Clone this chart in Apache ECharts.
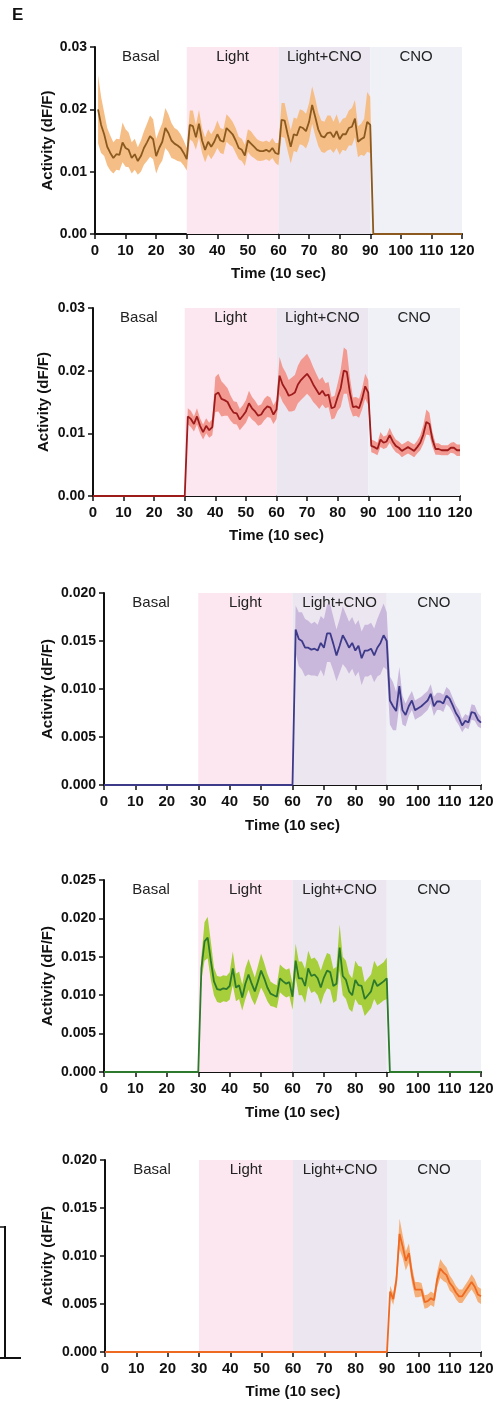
<!DOCTYPE html>
<html><head><meta charset="utf-8">
<script src="https://cdn.jsdelivr.net/npm/echarts@6/dist/echarts.min.js"></script>
<style>html,body{margin:0;padding:0;background:#fff}#c{width:497px;height:1402px}</style>
</head><body><div id="c"></div>
<script>
// ---------- data ----------
const phaseNames = ['Basal', 'Light', 'Light+CNO', 'CNO'];
const phaseBounds = [0, 30, 60, 90, 120];
const xAxisName = 'Time (10 sec)';
const yAxisName = 'Activity (dF/F)';

// Panel 1 (x = 1..90, then 0)
const p1Start = 1;
const p1Mean = [
 .0200,.0175,.0160,.0140,.0130,.0122,.0128,.0127,.0147,.0138,
 .0135,.0122,.0128,.0117,.0125,.0138,.0147,.0157,.0152,.0125,
 .0138,.0148,.0170,.0162,.0150,.0145,.0142,.0138,.0130,.0120,
 .0175,.0173,.0155,.0177,.0150,.0135,.0148,.0140,.0148,.0160,
 .0150,.0148,.0170,.0165,.0160,.0150,.0138,.0135,.0126,.0150,
 .0145,.0140,.0135,.0133,.0133,.0135,.0132,.0138,.0130,.0128,
 .0183,.0182,.0160,.0140,.0160,.0158,.0172,.0170,.0165,.0180,
 .0207,.0188,.0168,.0157,.0155,.0162,.0163,.0155,.0165,.0152,
 .0160,.0160,.0170,.0172,.0185,.0148,.0152,.0155,.0180,.0175];
const p1Sem = [
 .0055,.0045,.0035,.0030,.0028,.0025,.0025,.0025,.0032,.0030,
 .0028,.0025,.0025,.0022,.0025,.0027,.0030,.0033,.0032,.0028,
 .0028,.0030,.0032,.0030,.0028,.0025,.0025,.0022,.0020,.0018,
 .0023,.0025,.0020,.0022,.0020,.0020,.0020,.0020,.0020,.0022,
 .0020,.0020,.0022,.0022,.0020,.0020,.0018,.0018,.0017,.0018,
 .0020,.0018,.0017,.0016,.0015,.0015,.0015,.0016,.0016,.0018,
 .0027,.0028,.0027,.0027,.0027,.0027,.0028,.0028,.0028,.0030,
 .0030,.0030,.0027,.0025,.0025,.0028,.0027,.0025,.0027,.0025,
 .0025,.0027,.0028,.0030,.0030,.0025,.0025,.0030,.0048,.0045];

// Panel 2 (0 until 30, x = 31..120)
const p2Start = 31;
const p2Mean = [
 .0127,.0123,.0115,.0127,.0112,.0102,.0112,.0105,.0110,.0162,
 .0165,.0155,.0153,.0150,.0140,.0133,.0132,.0122,.0128,.0135,
 .0148,.0140,.0135,.0128,.0130,.0138,.0143,.0141,.0130,.0138,
 .0192,.0178,.0170,.0160,.0162,.0165,.0178,.0185,.0190,.0195,
 .0188,.0178,.0170,.0162,.0168,.0160,.0162,.0140,.0142,.0158,
 .0172,.0200,.0198,.0165,.0142,.0143,.0140,.0155,.0175,.0165,
 .0080,.0078,.0075,.0090,.0085,.0087,.0097,.0087,.0080,.0077,
 .0072,.0075,.0078,.0075,.0072,.0078,.0085,.0098,.0118,.0115,
 .0090,.0075,.0075,.0073,.0073,.0073,.0077,.0077,.0073,.0073];
const p2Sem = [
 .0013,.0013,.0012,.0013,.0012,.0012,.0012,.0012,.0013,.0028,
 .0030,.0028,.0025,.0022,.0020,.0018,.0018,.0017,.0017,.0018,
 .0020,.0018,.0017,.0016,.0016,.0017,.0017,.0016,.0015,.0015,
 .0030,.0028,.0027,.0025,.0027,.0028,.0030,.0032,.0032,.0032,
 .0030,.0028,.0025,.0023,.0022,.0020,.0020,.0018,.0018,.0022,
 .0030,.0037,.0035,.0025,.0015,.0015,.0015,.0017,.0020,.0020,
 .0010,.0010,.0010,.0012,.0010,.0010,.0012,.0011,.0010,.0010,
 .0010,.0010,.0010,.0010,.0010,.0010,.0012,.0015,.0020,.0018,
 .0012,.0009,.0009,.0008,.0008,.0008,.0008,.0009,.0009,.0009];

// Panel 3 (0 until 60, x = 61..120)
const p3Start = 61;
const p3Mean = [
 .0162,.0152,.0150,.0143,.0143,.0141,.0142,.0140,.0148,.0143,
 .0158,.0158,.0147,.0135,.0145,.0156,.0150,.0143,.0148,.0140,
 .0145,.0132,.0140,.0140,.0142,.0135,.0143,.0148,.0156,.0150,
 .0088,.0082,.0077,.0103,.0078,.0073,.0082,.0088,.0078,.0080,
 .0082,.0085,.0088,.0095,.0082,.0087,.0087,.0085,.0093,.0090,
 .0083,.0075,.0070,.0062,.0067,.0065,.0076,.0075,.0068,.0065];
const p3Sem = [
 .0025,.0028,.0030,.0030,.0028,.0027,.0028,.0027,.0028,.0030,
 .0030,.0030,.0028,.0027,.0028,.0030,.0028,.0027,.0027,.0027,
 .0027,.0028,.0027,.0027,.0027,.0028,.0030,.0033,.0033,.0030,
 .0025,.0025,.0020,.0020,.0015,.0012,.0010,.0010,.0010,.0010,
 .0010,.0010,.0010,.0010,.0010,.0009,.0009,.0009,.0009,.0009,
 .0008,.0008,.0008,.0007,.0007,.0007,.0008,.0008,.0007,.0006];

// Panel 4 (0 until 30, x = 31..90, then 0)
const p4Start = 31;
const p4Mean = [
 .0135,.0170,.0175,.0145,.0118,.0108,.0107,.0109,.0108,.0112,
 .0135,.0110,.0113,.0097,.0115,.0127,.0115,.0105,.0118,.0132,
 .0122,.0110,.0102,.0100,.0098,.0122,.0118,.0115,.0117,.0098,
 .0145,.0122,.0122,.0112,.0135,.0125,.0127,.0122,.0110,.0123,
 .0132,.0130,.0112,.0115,.0162,.0125,.0120,.0105,.0100,.0120,
 .0113,.0112,.0095,.0100,.0105,.0120,.0112,.0115,.0118,.0122];
const p4Sem = [
 .0015,.0025,.0027,.0025,.0018,.0017,.0017,.0017,.0017,.0018,
 .0022,.0018,.0018,.0017,.0020,.0020,.0020,.0018,.0020,.0022,
 .0020,.0018,.0016,.0015,.0015,.0018,.0018,.0018,.0018,.0017,
 .0022,.0022,.0022,.0022,.0023,.0022,.0022,.0022,.0022,.0022,
 .0023,.0023,.0022,.0022,.0030,.0025,.0025,.0023,.0022,.0025,
 .0025,.0025,.0022,.0022,.0022,.0025,.0025,.0025,.0025,.0027];

// Panel 5 (0 until 90, x = 91..120)
const p5Start = 91;
const p5Mean = [
 .0063,.0055,.0075,.0123,.0110,.0095,.0103,.0080,.0065,.0065,
 .0065,.0052,.0053,.0056,.0054,.0075,.0087,.0083,.0080,.0072,
 .0068,.0062,.0058,.0058,.0063,.0068,.0073,.0068,.0060,.0058];
const p5Sem = [
 .0006,.0006,.0008,.0016,.0012,.0010,.0010,.0009,.0008,.0008,
 .0007,.0007,.0007,.0007,.0007,.0008,.0010,.0009,.0008,.0008,
 .0007,.0007,.0007,.0007,.0007,.0007,.0008,.0008,.0008,.0008];

const yMaxes = [0.03, 0.03, 0.02, 0.025, 0.02];
const yIntervals = [0.01, 0.01, 0.005, 0.005, 0.005];
const yDecimals = [2, 2, 3, 3, 3];

// ---------- styling / layout ----------
const FONT = 'Arial, "Liberation Sans", sans-serif';
const phaseColors = ['rgba(255,255,255,0)', '#fce6ef', '#ece6f0', '#eff1f7'];
const panels = [
  {start: p1Start, from: 1, mean: p1Mean, sem: p1Sem, line: '#8c5a1e', band: '#f6be87',
   left: 95, width: 367, top: 47, height: 187, yGap: 40, xGap: 32},
  {start: p2Start, from: 0, mean: p2Mean, sem: p2Sem, line: '#9e1b1b', band: '#f29a92',
   left: 93, width: 367, top: 308, height: 188, yGap: 42, xGap: 32},
  {start: p3Start, from: 0, mean: p3Mean, sem: p3Sem, line: '#3d3a8a', band: '#c9b8dc',
   left: 104, width: 377, top: 593, height: 192, yGap: 49, xGap: 33},
  {start: p4Start, from: 0, mean: p4Mean, sem: p4Sem, line: '#2d7a2d', band: '#a6cf3b',
   left: 104, width: 377, top: 880, height: 192, yGap: 49, xGap: 33},
  {start: p5Start, from: 0, mean: p5Mean, sem: p5Sem, line: '#ee6a22', band: '#f5b07a',
   left: 105, width: 376, top: 1160, height: 192, yGap: 50, xGap: 32}
];

const grids = [], xAxes = [], yAxes = [], series = [];
panels.forEach((p, i) => {
  grids.push({left: p.left, top: p.top, width: p.width, height: p.height});
  xAxes.push({
    type: 'value', gridIndex: i, min: 0, max: 120, interval: 10,
    name: xAxisName, nameLocation: 'middle', nameGap: p.xGap, nameMoveOverlap: false,
    nameTextStyle: {fontFamily: FONT, fontWeight: 'bold', fontSize: 15, color: '#111'},
    axisLine: {lineStyle: {color: '#111', width: 2}},
    axisTick: {show: true, length: 5, lineStyle: {color: '#111', width: 1.5}},
    axisLabel: {fontFamily: FONT, fontWeight: 'bold', fontSize: 15, color: '#111', margin: 9},
    splitLine: {show: false}
  });
  yAxes.push({
    type: 'value', gridIndex: i, min: 0, max: yMaxes[i], interval: yIntervals[i],
    name: yAxisName, nameLocation: 'middle', nameGap: p.yGap, nameMoveOverlap: false,
    nameTextStyle: {fontFamily: FONT, fontWeight: 'bold', fontSize: 15, color: '#111'},
    axisLine: {show: true, lineStyle: {color: '#111', width: 2}},
    axisTick: {show: true, length: 5, lineStyle: {color: '#111', width: 1.5}},
    axisLabel: {fontFamily: FONT, fontWeight: 'bold', fontSize: 14, color: '#111', margin: 8,
      formatter: v => v.toFixed(yDecimals[i])},
    splitLine: {show: false}
  });
  const band = [], mean = [];
  for (let x = p.from; x <= 120; x++) {
    const k = x - p.start;
    if (k >= 0 && k < p.mean.length) {
      band.push([x, p.mean[k] - p.sem[k], p.mean[k] + p.sem[k]]);
      mean.push([x, p.mean[k]]);
    } else {
      band.push([x, 0, 0]);
      mean.push([x, 0]);
    }
  }
  const areas = phaseNames.map((n, j) => [
    {xAxis: phaseBounds[j], name: n, itemStyle: {color: phaseColors[j]}},
    {xAxis: phaseBounds[j + 1]}
  ]);
  // background phases
  series.push({
    type: 'line', xAxisIndex: i, yAxisIndex: i, data: mean, symbol: 'none',
    lineStyle: {opacity: 0}, silent: true, z: 1,
    markArea: {silent: true,
      label: {show: true, position: 'insideTop', distance: 2, fontFamily: FONT, fontSize: 15, color: '#222',
        formatter: d => d.name},
      data: areas}
  });
  // SEM band
  series.push({
    type: 'custom', xAxisIndex: i, yAxisIndex: i, data: band, silent: true, z: 3,
    encode: {x: 0, y: [1, 2]},
    renderItem: (params, api) => {
      if (params.dataIndex !== 0) return null;
      const up = band.map(d => api.coord([d[0], d[2]]));
      const lo = band.map(d => api.coord([d[0], d[1]])).reverse();
      return {type: 'polygon', shape: {points: up.concat(lo)}, style: {fill: p.band}};
    }
  });
  // mean line
  series.push({
    type: 'line', xAxisIndex: i, yAxisIndex: i, data: mean, symbol: 'none',
    lineStyle: {color: p.line, width: 1.8}, silent: true, z: 4
  });
});

const chart = echarts.init(document.getElementById('c'), null, {renderer: 'canvas'});
chart.setOption({
  animation: false,
  backgroundColor: '#fff',
  grid: grids, xAxis: xAxes, yAxis: yAxes, series: series,
  graphic: [
    {type: 'text', left: 12, top: 7, style: {text: 'E', font: 'bold 17px ' + FONT, fill: '#111'}},
    {type: 'line', shape: {x1: 5, y1: 1226, x2: 5, y2: 1358}, style: {stroke: '#111', lineWidth: 2}},
    {type: 'line', shape: {x1: 0, y1: 1358, x2: 21, y2: 1358}, style: {stroke: '#111', lineWidth: 2}},
    {type: 'line', shape: {x1: 0, y1: 1227, x2: 5, y2: 1227}, style: {stroke: '#111', lineWidth: 1.5}}
  ]
});
</script></body></html>
